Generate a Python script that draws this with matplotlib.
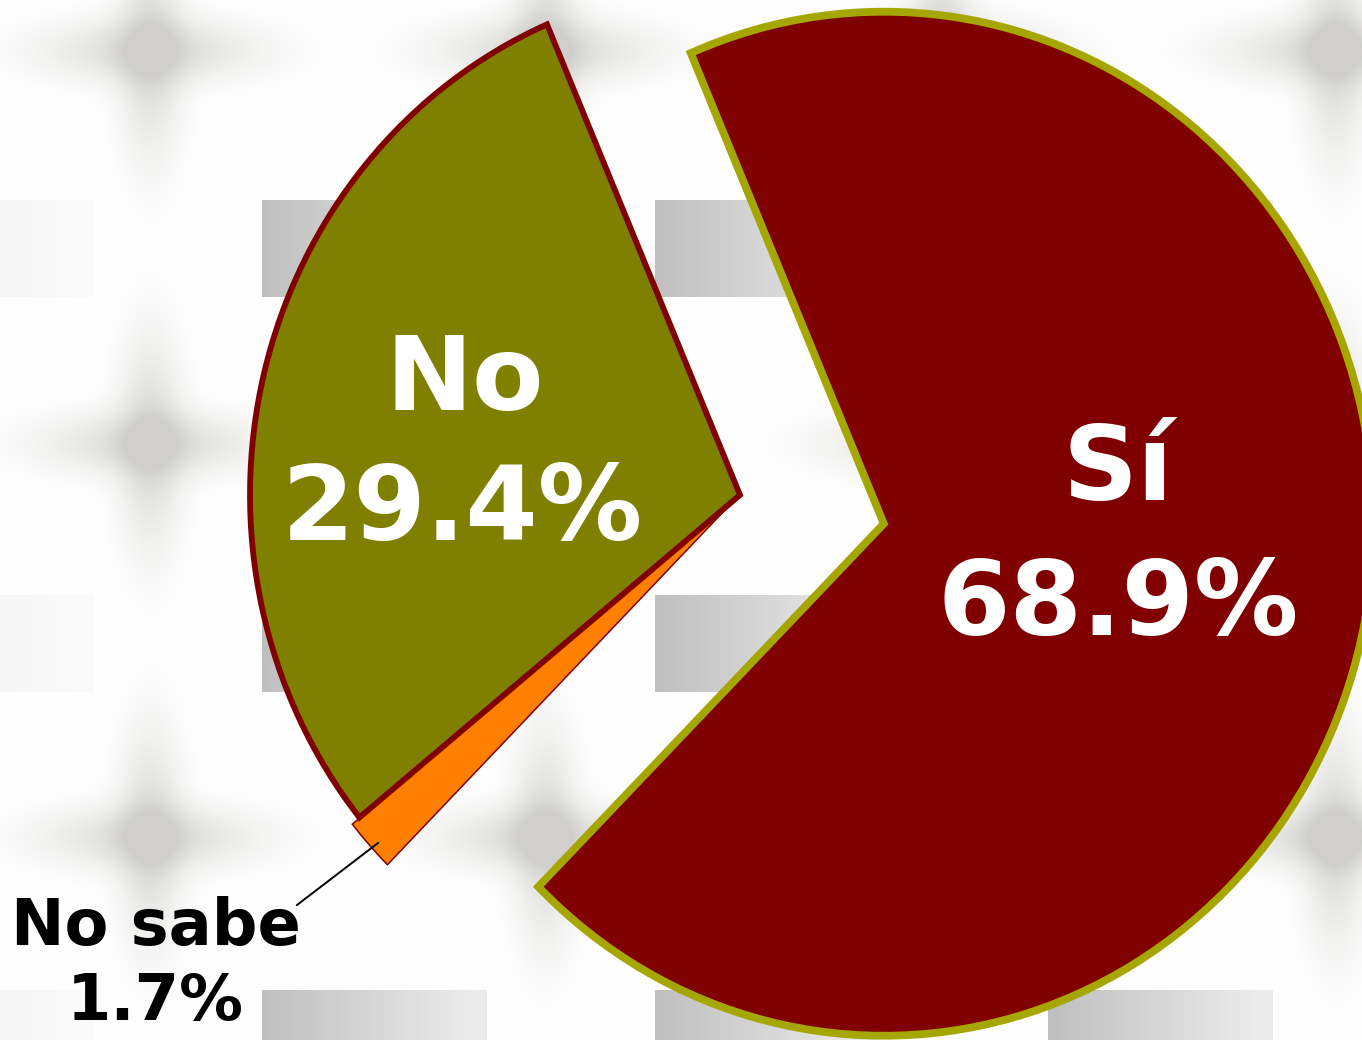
import numpy as np
import matplotlib
matplotlib.use("Agg")
import matplotlib.pyplot as plt

# data
labels = ["No", "No sabe", "Sí"]
values = [29.4, 1.7, 68.9]
colors = ["#808000", "#FF8000", "#800000"]
edge_colors = ["#800000", "#800000", "#A6A600"]
edge_widths = [4.2, 1.1, 5.6]

W, H = 1362, 1040
R = 512
SX = 0.957          # the original pie is slightly squeezed horizontally
fig = plt.figure(figsize=(W / 100, H / 100), dpi=100)
ax = fig.add_axes([0, 0, 1, 1])


def px(x):
    return x / SX


# background texture: soft gray crosses + faded gray boxes
yy, xx = np.mgrid[0:H, 0:W]
bg = np.ones((H, W))
warm = np.zeros((H, W))
for cx in [150, 545, 940, 1335]:
    for cy in [50, 443, 837]:
        dx = xx - cx
        dy = yy - cy
        cross = (np.exp(-dx**2 / (2 * 22**2)) * np.exp(-dy**2 / (2 * 75**2))
                 + np.exp(-dy**2 / (2 * 22**2)) * np.exp(-dx**2 / (2 * 75**2)))
        cross = np.clip(cross, 0, 1.4)
        bg -= 0.13 * cross
        warm += cross
for x0 in [-131, 262, 655, 1048]:
    for y0 in [200, 595, 990]:
        shade = 0.06 if x0 < 0 else 0.25
        box = (xx >= x0) & (xx < x0 + 225) & (yy >= y0) & (yy < y0 + 97)
        fade = np.clip(1 - (xx - x0) / 300.0, 0.3, 1)
        bg = np.where(box, np.minimum(bg, 1 - shade * fade), bg)
bg = np.clip(bg, 0, 1)
warm = np.clip(warm, 0, 1)
rgb = np.dstack([bg, bg * (1 - 0.003 * warm), bg * (1 - 0.015 * warm)])
ax.imshow(rgb, extent=(0, px(W), 0, H), origin="upper", zorder=0,
          aspect="auto")

# explode is in data units
explode = [0, 10, 153]
wedges, _ = ax.pie(values, colors=colors, explode=explode, startangle=113.2,
                   counterclock=True, radius=R, center=(px(740), H - 495),
                   frame=True)
for w, ec, lw in zip(wedges, edge_colors, edge_widths):
    w.set_edgecolor(ec)
    w.set_linewidth(lw)
    w.set_joinstyle("miter")
    w.set_zorder(2)
wedges[0].set_zorder(3)

ax.set_aspect("auto")
ax.set_xlim(0, px(W))
ax.set_ylim(0, H)
ax.axis("off")

font = "DejaVu Sans"
big = dict(color="white", fontsize=75, fontweight="bold", family=font,
           ha="center", va="baseline", zorder=5)
ax.text(px(465), H - 410, labels[0], **big)
ax.text(px(462), H - 540, f"{values[0]}%", **big)
ax.text(px(1118), H - 500, labels[2], **big)
ax.text(px(1118), H - 635, f"{values[2]}%", **big)

small = dict(color="black", fontsize=46, fontweight="bold", family=font,
             ha="center", va="baseline", zorder=5)
ax.text(px(156), H - 945, labels[1], **small)
ax.text(px(155), H - 1020, f"{values[1]}%", **small)
ax.plot([px(297), px(378)], [H - 905, H - 843], color="black", lw=1.4,
        zorder=4)

fig.savefig("out.png", dpi=100)
